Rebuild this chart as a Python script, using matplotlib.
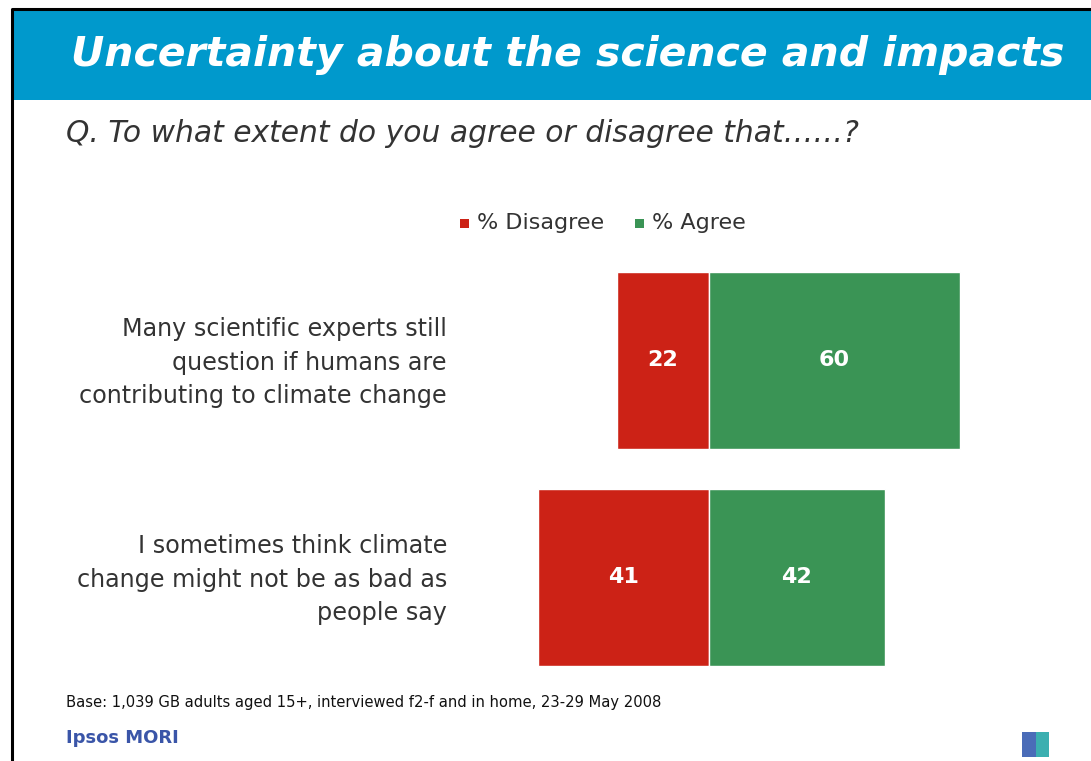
import matplotlib.pyplot as plt
from matplotlib.patches import Rectangle
from matplotlib.lines import Line2D

# survey data
statements = ['Many scientific experts still\nquestion if humans are\ncontributing to climate change',
              'I sometimes think climate\nchange might not be as bad as\npeople say']
disagree = [22, 41]
agree = [60, 42]

RED = '#CC2216'
GREEN = '#3A9455'
BLUE = '#0099CC'
GREY = '#333333'

W, H = 1091, 761
fig = plt.figure(figsize=(W / 100, H / 100), dpi=100)
fig.patch.set_facecolor('white')


def px(x, y):
    # pixel (from top-left) to figure fraction
    return x / W, 1 - y / H


# slide frame (left and top edges only) + header band
fig.add_artist(Rectangle(px(13, 100), (W - 13) / W, 90 / H, transform=fig.transFigure,
                         facecolor=BLUE, edgecolor='none', zorder=1))
fig.add_artist(Line2D([12 / W, 12 / W, 1], [0, 1 - 9 / H, 1 - 9 / H], transform=fig.transFigure,
                      color='black', linewidth=2.2, zorder=2))
fig.text(*px(568, 55), 'Uncertainty about the science and impacts', color='white',
         fontsize=29.5, fontweight='bold', fontstyle='italic', ha='center', va='center')
fig.text(*px(66, 133), 'Q. To what extent do you agree or disagree that\u2026\u2026?', color=GREY,
         fontsize=21.4, fontstyle='italic', ha='left', va='center')

# bar axes: zero line at x=709px, 4.18 px per point
scale = 4.18
ax_l, ax_r, ax_t, ax_b = 460, 1060, 260, 680
ax = fig.add_axes([ax_l / W, 1 - ax_b / H, (ax_r - ax_l) / W, (ax_b - ax_t) / H])
ax.set_xlim((ax_l - 709) / scale, (ax_r - 709) / scale)
step = 217
ax.set_ylim(1 + (ax_b - 577.5) / step, -(360.5 - ax_t) / step)
ax.axis('off')

ypos = range(len(statements))
height = 177 / step
ax.barh(ypos, [-d for d in disagree], height=height, color=RED, edgecolor='white', linewidth=1)
ax.barh(ypos, agree, height=height, color=GREEN, edgecolor='white', linewidth=1)
for i in ypos:
    ax.text(-disagree[i] / 2, i, str(disagree[i]), color='white', fontsize=16,
            fontweight='bold', ha='center', va='center')
    ax.text(agree[i] / 2, i, str(agree[i]), color='white', fontsize=16,
            fontweight='bold', ha='center', va='center')
    ax.text((447 - 709) / scale, i + 0.01, statements[i], color=GREY, fontsize=17.2,
            ha='right', va='center', linespacing=1.5)

# legend
for x0, lab, col in [(460, '% Disagree', RED), (635, '% Agree', GREEN)]:
    fig.add_artist(Rectangle(px(x0, 228), 9 / W, 9 / H, transform=fig.transFigure,
                             facecolor=col, edgecolor='none'))
    fig.text(*px(x0 + 17, 223), lab, color=GREY, fontsize=16, ha='left', va='center')

# footer
fig.text(*px(66, 702), 'Base: 1,039 GB adults aged 15+, interviewed f2-f and in home, 23-29 May 2008',
         color='#111111', fontsize=11.8, ha='left', va='center', fontstretch='condensed')
fig.text(*px(66, 738), 'Ipsos MORI', color='#3A55A8', fontsize=13, fontweight='bold',
         ha='left', va='center')
fig.add_artist(Rectangle(px(1022, 757), 27 / W, 25 / H, transform=fig.transFigure,
                         facecolor='#4A6CB8', edgecolor='none'))
fig.add_artist(Rectangle(px(1036, 757), 13 / W, 25 / H, transform=fig.transFigure,
                         facecolor='#3BAFB0', edgecolor='none'))

fig.savefig('out.png', dpi=100)
